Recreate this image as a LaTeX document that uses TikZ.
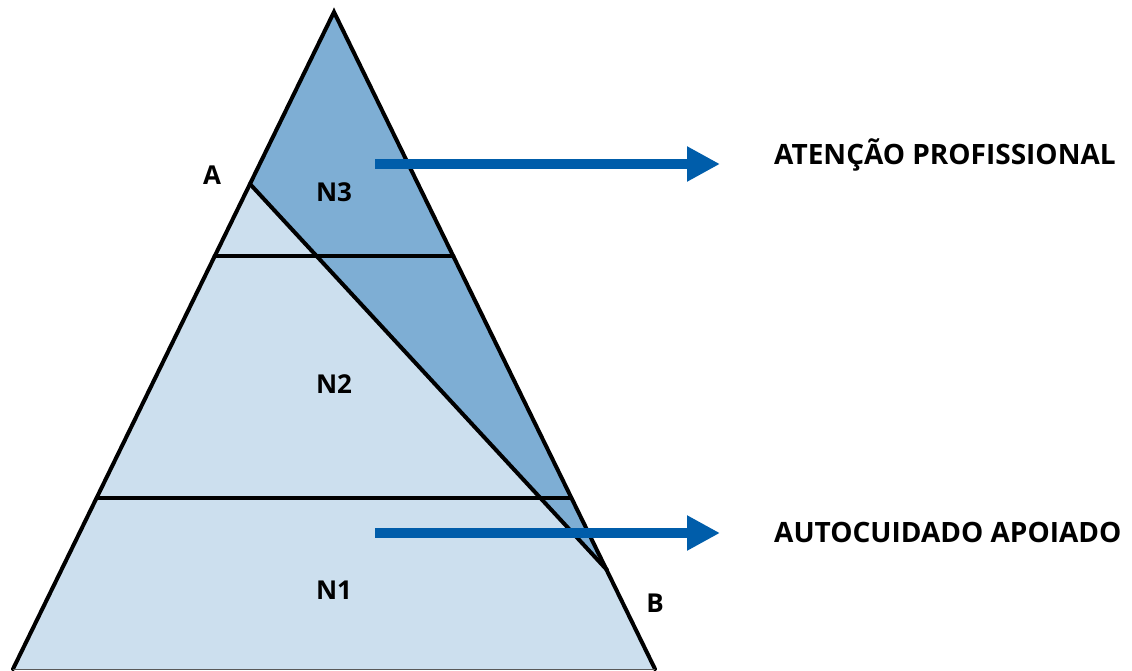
\documentclass[tikz,border=0pt]{standalone}
\usepackage{fontspec}
\setmainfont{Open Sans}
\usetikzlibrary{arrows.meta,calc}
\definecolor{upper}{HTML}{7EAED4}
\definecolor{lower}{HTML}{CCDFEE}
\definecolor{arrowblue}{HTML}{005DAA}
\tikzset{
  lbl/.style={font=\bfseries\fontsize{26}{30}\selectfont},
  side/.style={font=\bfseries\fontsize{28}{32}\selectfont,anchor=west,inner sep=0pt},
  bigarrow/.style={draw=arrowblue,line width=10.5pt,-{Triangle[length=33pt,width=33pt]}},
  edge/.style={draw,line width=4pt,line cap=round}
}
\begin{document}
\begin{tikzpicture}[x=1pt,y=-1pt]
\useasboundingbox (0,0) rectangle (1132,670);
\coordinate (top) at (334,12);
\coordinate (bl) at (13,669);
\coordinate (br) at (655,669);
\coordinate (a) at (250,184);
\coordinate (b) at (607,570);
\coordinate (l1) at ($(top)!0.372!(bl)$);
\coordinate (r1) at ($(top)!0.372!(br)$);
\coordinate (l2) at ($(top)!0.739!(bl)$);
\coordinate (r2) at ($(top)!0.739!(br)$);
% fills
\fill[lower] (top) -- (bl) -- (br) -- cycle;
\fill[upper] (top) -- (a) -- (b) -- cycle;
% lines
\path[edge] (l1) -- (r1);
\path[edge] (l2) -- (r2);
\path[edge] (a) -- (b);
\path[edge] (bl) -- (top) -- (br);
\path[draw,gray!70!black,line width=1pt] (bl) -- (br);
% labels
\node[lbl] (A) at (212,175) {A};
\node[lbl] (B) at (655,603) {B};
\node[lbl] (N3) at (334,192) {N3};
\node[lbl] (N2) at (334,384) {N2};
\node[lbl] (N1) at (334,590) {N1};
\node[side] (prof) at (774,155) {ATENÇÃO PROFISSIONAL};
\node[side] (auto) at (774,532) {AUTOCUIDADO APOIADO};
% arrows
\coordinate (s1) at (375,164);
\coordinate (e1) at (720,164);
\coordinate (s2) at (375,533);
\coordinate (e2) at (720,533);
\path[bigarrow] (s1) -- (e1);
\path[bigarrow] (s2) -- (e2);
\end{tikzpicture}
\end{document}
